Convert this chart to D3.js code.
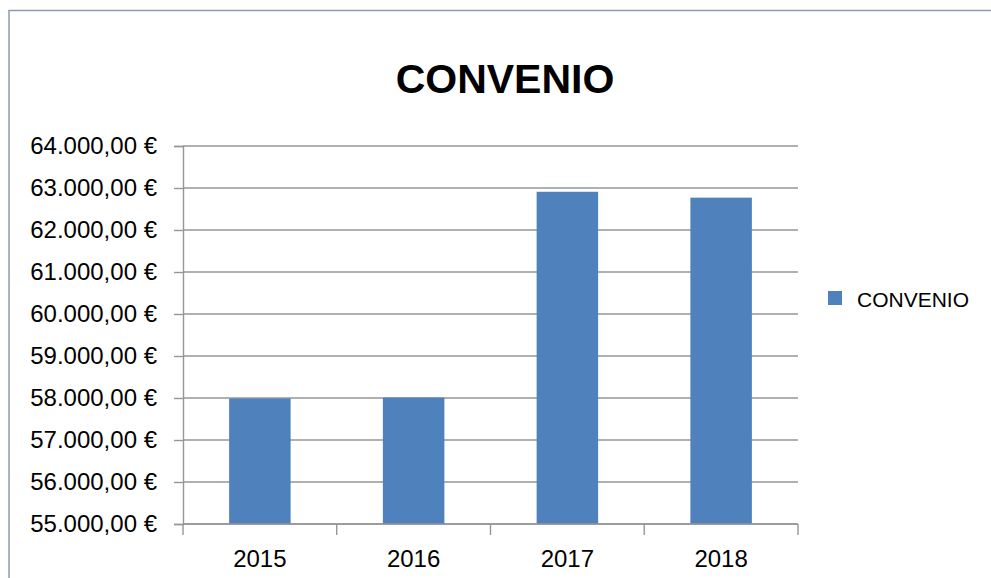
<!DOCTYPE html>
<html>
<head>
<meta charset="utf-8">
<script src="https://cdn.jsdelivr.net/npm/d3@7"></script>
<style>
  html, body { margin: 0; padding: 0; background: #ffffff; }
  svg { display: block; font-family: "Liberation Sans", Arial, sans-serif; }
</style>
</head>
<body>
<div id="chart"></div>
<script>
// Convenio bar chart
const years = ['2015', '2016', '2017', '2018'];
const convenio = [57990, 58010, 62910, 62770];
const yTicks = [55000, 56000, 57000, 58000, 59000, 60000, 61000, 62000, 63000, 64000];
const seriesName = 'CONVENIO';
const chartTitle = 'CONVENIO';

const W = 991, H = 578;
const plot = { left: 183, right: 798, top: 146, bottom: 524 };

const svg = d3.select('#chart').append('svg')
    .attr('width', W)
    .attr('height', H);

// chart border
svg.append('rect')
    .attr('x', 9)
    .attr('y', 10.5)
    .attr('width', 1100)
    .attr('height', 700)
    .attr('fill', '#ffffff')
    .attr('stroke', '#8d9cb0')
    .attr('stroke-width', 1.5);

const x = d3.scaleBand()
    .domain(years)
    .range([plot.left, plot.right])
    .paddingInner(0.6)
    .paddingOuter(0.3);

const y = d3.scaleLinear()
    .domain([d3.min(yTicks), d3.max(yTicks)])
    .range([plot.bottom, plot.top]);

const euro = d3.formatLocale({
    decimal: ',',
    thousands: '.',
    grouping: [3],
    currency: ['', ' €']
}).format('$,.2f');

// Gridlines
svg.append('g')
    .selectAll('line')
    .data(yTicks)
    .join('line')
    .attr('x1', plot.left)
    .attr('x2', plot.right)
    .attr('y1', d => y(d))
    .attr('y2', d => y(d))
    .attr('stroke', '#969696')
    .attr('stroke-width', 1.4);

// Bars
svg.append('g')
    .selectAll('rect')
    .data(years)
    .join('rect')
    .attr('x', d => x(d))
    .attr('width', x.bandwidth())
    .attr('y', (d, i) => y(convenio[i]))
    .attr('height', (d, i) => y.range()[0] - y(convenio[i]))
    .attr('fill', '#4f81bd');

// Y axis
const yAxis = d3.axisLeft(y)
    .tickValues(yTicks)
    .tickSize(9)
    .tickPadding(17)
    .tickFormat(euro);

const gy = svg.append('g')
    .attr('transform', `translate(${plot.left},0)`)
    .call(yAxis);

gy.select('.domain')
    .attr('stroke', '#969696')
    .attr('stroke-width', 1.4);
gy.selectAll('.tick line')
    .attr('stroke', '#969696')
    .attr('stroke-width', 1.4);
gy.selectAll('.tick text')
    .attr('fill', '#000000')
    .style('font-size', '24px')
    .style('font-family', '"Liberation Sans", Arial, sans-serif');

// X axis (ticks at category boundaries)
const boundaries = d3.range(years.length + 1).map(i => plot.left + i * x.step());
const gx = svg.append('g');

gx.append('line')
    .attr('x1', plot.left)
    .attr('x2', plot.right)
    .attr('y1', plot.bottom)
    .attr('y2', plot.bottom)
    .attr('stroke', '#969696')
    .attr('stroke-width', 1.4);

gx.selectAll('.xtick')
    .data(boundaries)
    .join('line')
    .attr('class', 'xtick')
    .attr('x1', d => d)
    .attr('x2', d => d)
    .attr('y1', plot.bottom)
    .attr('y2', plot.bottom + 11)
    .attr('stroke', '#969696')
    .attr('stroke-width', 1.4);

gx.selectAll('.xlabel')
    .data(years)
    .join('text')
    .attr('class', 'xlabel')
    .attr('x', d => x(d) + x.bandwidth() / 2)
    .attr('y', 567)
    .attr('text-anchor', 'middle')
    .style('font-size', '24px')
    .attr('fill', '#000000')
    .text(d => d);

// Title
svg.append('text')
    .attr('x', 505)
    .attr('y', 93)
    .attr('text-anchor', 'middle')
    .style('font-size', '41px')
    .style('font-weight', '700')
    .attr('fill', '#000000')
    .text(chartTitle);

// Legend
const legend = svg.append('g')
    .attr('transform', 'translate(828, 291)');

legend.append('rect')
    .attr('width', 14)
    .attr('height', 14)
    .attr('fill', '#4f81bd');

legend.append('text')
    .attr('x', 29)
    .attr('y', 15.5)
    .style('font-size', '21px')
    .attr('fill', '#000000')
    .text(seriesName);
</script>
</body>
</html>
